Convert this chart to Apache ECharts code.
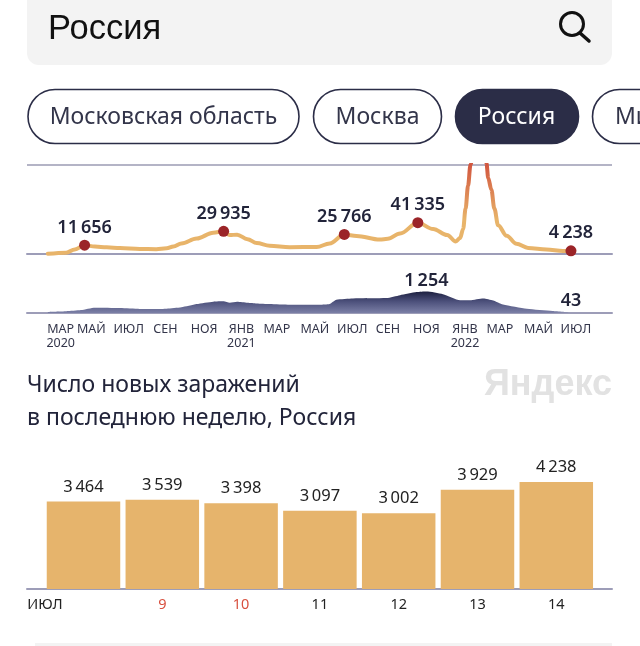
<!DOCTYPE html>
<html>
<head>
<meta charset="utf-8">
<style>
  html, body { margin: 0; padding: 0; background: #fff; }
  #chart { width: 640px; height: 646px; }
</style>
</head>
<body>
<div id="chart"></div>
<script src="https://cdn.jsdelivr.net/npm/echarts@6/dist/echarts.min.js"></script>
<script>
// new cases per day
const caseDates = ["2020-03-12","2020-04-11","2020-04-25","2020-05-11","2020-05-28","2020-06-16","2020-07-08","2020-08-09","2020-09-05","2020-09-22","2020-10-03","2020-10-16","2020-11-10","2020-12-07","2020-12-24","2021-01-03","2021-01-15","2021-02-01","2021-02-16","2021-03-09","2021-04-11","2021-05-25","2021-06-15","2021-07-09","2021-07-29","2021-09-05","2021-09-18","2021-10-08","2021-11-06","2021-12-01","2021-12-24","2022-01-07","2022-01-14","2022-01-19","2022-01-23","2022-01-27","2022-01-31","2022-02-11","2022-02-26","2022-03-01","2022-03-06","2022-03-11","2022-03-17","2022-03-31","2022-04-16","2022-05-05","2022-06-04","2022-07-01","2022-07-14"];
const caseValues = [300,1800,6000,11656,9800,8800,7800,6500,6400,7500,10000,14000,20500,28000,29935,25000,25500,19500,14500,11000,9000,9200,14000,25766,23800,19000,20000,27000,41335,33000,25000,16500,21000,33000,60000,90000,118000,203000,120000,100000,85000,60000,38000,24000,13500,8000,6000,4000,4238];

// labelled peaks on the cases line
const peakDates = ["2020-05-11","2020-12-24","2021-07-09","2021-11-06","2022-07-14"];
const peakValues = [11656,29935,25766,41335,4238];

// deaths per day
const deathDates = ["2020-03-12","2020-04-11","2020-05-05","2020-05-28","2020-07-08","2020-08-09","2020-09-05","2020-09-22","2020-10-16","2020-11-10","2020-12-07","2020-12-24","2021-01-03","2021-01-15","2021-02-01","2021-02-16","2021-03-09","2021-04-11","2021-05-30","2021-06-15","2021-06-26","2021-07-23","2021-09-16","2021-10-08","2021-11-04","2021-11-20","2021-12-17","2022-01-14","2022-01-30","2022-02-21","2022-03-09","2022-03-25","2022-05-03","2022-06-14","2022-07-14"];
const deathValues = [60,100,170,310,290,240,230,250,330,520,660,680,600,660,600,560,520,480,480,520,770,850,870,1040,1220,1254,1100,750,750,850,730,500,250,120,43];
const deathPeakDates = ["2021-11-20","2022-07-14"];
const deathPeakValues = [1254,43];

// month ticks, placed where the labels sit in the picture
const monthTickDates = ["2020-04-02","2020-05-22","2020-07-22","2020-09-20","2020-11-22","2021-01-22","2021-03-21","2021-05-22","2021-07-22","2021-09-18","2021-11-20","2022-01-22","2022-03-20","2022-05-22","2022-07-22"];
const monthTickLabels = ["МАР\n2020","МАЙ","ИЮЛ","СЕН","НОЯ","ЯНВ\n2021","МАР","МАЙ","ИЮЛ","СЕН","НОЯ","ЯНВ\n2022","МАР","МАЙ","ИЮЛ"];

// last week bars
const weekDays = [8,9,10,11,12,13,14];
const weekValues = [3464,3539,3398,3097,3002,3929,4238];
const weekTickValues = [7.51,9,10,11,12,13,14];
const weekTickLabels = ["ИЮЛ","9","10","11","12","13","14"];
const holidayDays = [9,10];

const pillLabels = ["Московская область","Москва","Россия","Ми"];

const axisStart = "2020-02-07";
const axisEnd = "2022-09-19";
const casesMax = 117500;
const deathsMax = 1632;

const FONT = '"Noto Sans", sans-serif';
const INK = "#22243a";
const NAVY = "#2b2d47";
const RULE = "#9d9db8";
const SAND = "#e8b46a";

function formatNum(v) {
    return String(v).replace(/\B(?=(\d{3})+$)/g, "\u2009");
}

function ms(d) {
    return +new Date(d);
}

function zipDates(ds, ys) {
    return ds.map((d, i) => [ms(d), ys[i]]);
}

const tickLabelByTime = {};
monthTickDates.forEach((d, i) => { tickLabelByTime[ms(d)] = monthTickLabels[i]; });

const pills = [
    { x: 28, w: 271, tx: 163.5 },
    { x: 313.5, w: 128, tx: 377.5 },
    { x: 455.5, w: 123, tx: 516.5, active: true },
    { x: 592.5, w: 120, tx: 615, left: true },
];

const graphics = [
    { type: "rect", shape: { x: 27, y: -12, width: 585, height: 77, r: 12 }, style: { fill: "#f3f3f3" } },
    { type: "text", x: 48, y: 29, style: { text: "Россия", font: '34.5px "Liberation Sans", sans-serif', fill: "#111", textVerticalAlign: "middle" } },
    { type: "circle", shape: { cx: 572, cy: 24, r: 11.5 }, style: { fill: "none", stroke: "#111", lineWidth: 3 } },
    { type: "line", shape: { x1: 580, y1: 33, x2: 589, y2: 41 }, style: { stroke: "#111", lineWidth: 3.5, lineCap: "round" } },
    { type: "text", x: 27, y: 385.5, style: { text: "Число новых заражений", font: "23px " + FONT, fill: INK, textVerticalAlign: "middle" } },
    { type: "text", x: 27, y: 418.5, style: { text: "в последнюю неделю, Россия", font: "23px " + FONT, fill: INK, textVerticalAlign: "middle" } },
    { type: "text", x: 612, y: 385, style: { text: "Яндекс", font: 'bold 36px "Liberation Sans", sans-serif', fill: "#e2e2e2", textAlign: "right", textVerticalAlign: "middle" } },
    { type: "rect", shape: { x: 35, y: 643, width: 577, height: 3 }, style: { fill: "#f3f3f3" } },
];

pills.forEach((p, i) => {
    graphics.push({
        type: "rect",
        shape: { x: p.x, y: 89.5, width: p.w, height: 54, r: 27 },
        style: { fill: p.active ? NAVY : "#fff", stroke: NAVY, lineWidth: 1.6 },
    });
    graphics.push({
        type: "text",
        x: p.tx,
        y: 117,
        style: {
            text: pillLabels[i],
            font: "23px " + FONT,
            fill: p.active ? "#fff" : "#33354a",
            textAlign: p.left ? "left" : "center",
            textVerticalAlign: "middle",
        },
    });
});

const peakLabel = {
    show: true,
    position: "top",
    distance: 3,
    color: INK,
    fontFamily: FONT,
    fontSize: 18,
    fontWeight: 600,
    formatter: (p) => formatNum(p.value[1]),
};

const option = {
    animation: false,
    backgroundColor: "#fff",
    graphic: graphics,
    grid: [
        { left: 27, width: 585, top: 165, height: 89 },
        { left: 27, width: 585, top: 285, height: 28 },
        { left: 27, width: 585, top: 482, height: 107 },
    ],
    xAxis: [
        {
            type: "value", gridIndex: 0, min: ms(axisStart), max: ms(axisEnd),
            axisLine: { show: true, lineStyle: { color: RULE, width: 2 } },
            axisTick: { show: false }, axisLabel: { show: false }, splitLine: { show: false },
        },
        {
            type: "value", gridIndex: 1, min: ms(axisStart), max: ms(axisEnd),
            axisLine: { show: true, lineStyle: { color: RULE, width: 2 } },
            axisTick: { show: false }, splitLine: { show: false },
            axisLabel: {
                customValues: monthTickDates.map(ms),
                formatter: (v) => tickLabelByTime[v] || "",
                color: "#33354a", fontFamily: FONT, fontSize: 12.5, lineHeight: 14, margin: 9,
            },
        },
        {
            type: "value", gridIndex: 2, min: 7.283, max: 14.707,
            axisLine: { show: true, lineStyle: { color: RULE, width: 2 } },
            axisTick: { show: false }, splitLine: { show: false },
            axisLabel: {
                customValues: weekTickValues,
                formatter: (v) => weekTickLabels[weekTickValues.indexOf(v)],
                color: (v) => holidayDays.includes(Number(v)) ? "#d8503f" : "#222",
                fontFamily: FONT, fontSize: 14.5, margin: 8,
            },
        },
    ],
    yAxis: [
        {
            type: "value", gridIndex: 0, min: 0, max: casesMax, interval: casesMax,
            axisLine: { show: false }, axisTick: { show: false }, axisLabel: { show: false },
            splitLine: { show: true, lineStyle: { color: "#b4b4c6", width: 2 } },
        },
        {
            type: "value", gridIndex: 1, min: 0, max: deathsMax,
            axisLine: { show: false }, axisTick: { show: false }, axisLabel: { show: false }, splitLine: { show: false },
        },
        {
            type: "value", gridIndex: 2, min: 0, max: Math.max(...weekValues),
            axisLine: { show: false }, axisTick: { show: false }, axisLabel: { show: false }, splitLine: { show: false },
        },
    ],
    visualMap: {
        show: false,
        type: "continuous",
        seriesIndex: 0,
        dimension: 1,
        min: 45000,
        max: 117500,
        inRange: { color: [SAND, "#d2573f"] },
    },
    series: [
        {
            type: "line", xAxisIndex: 0, yAxisIndex: 0,
            data: zipDates(caseDates, caseValues),
            showSymbol: false, smooth: 0.35, smoothMonotone: "x", clip: true,
            lineStyle: { width: 4, cap: "round" },
        },
        {
            type: "scatter", xAxisIndex: 0, yAxisIndex: 0,
            data: zipDates(peakDates, peakValues),
            symbolSize: 11,
            itemStyle: { color: "#9b2428", opacity: 1 },
            label: peakLabel,
            z: 5,
        },
        {
            type: "line", xAxisIndex: 1, yAxisIndex: 1,
            data: zipDates(deathDates, deathValues),
            showSymbol: false, lineStyle: { width: 0 }, smooth: 0.2,
            areaStyle: {
                opacity: 1,
                color: new echarts.graphic.LinearGradient(0, 0, 0, 1, [
                    { offset: 0, color: "#1d2040" },
                    { offset: 0.45, color: "#4b4f7a" },
                    { offset: 1, color: "#7b7fa6" },
                ]),
            },
        },
        {
            type: "scatter", xAxisIndex: 1, yAxisIndex: 1,
            data: zipDates(deathPeakDates, deathPeakValues),
            symbolSize: 0,
            itemStyle: { opacity: 1 },
            label: Object.assign({}, peakLabel, { distance: 2 }),
            z: 5,
        },
        {
            type: "bar", xAxisIndex: 2, yAxisIndex: 2,
            data: weekDays.map((d, i) => [d, weekValues[i]]),
            barWidth: 73.5,
            itemStyle: { color: "#e6b46c" },
            label: {
                show: true, position: "top", distance: 6,
                color: "#222", fontFamily: FONT, fontSize: 16.5,
                formatter: (p) => formatNum(p.value[1]),
            },
        },
    ],
};

const chart = echarts.init(document.getElementById("chart"), null, { renderer: "canvas" });
chart.setOption(option);
</script>
</body>
</html>
